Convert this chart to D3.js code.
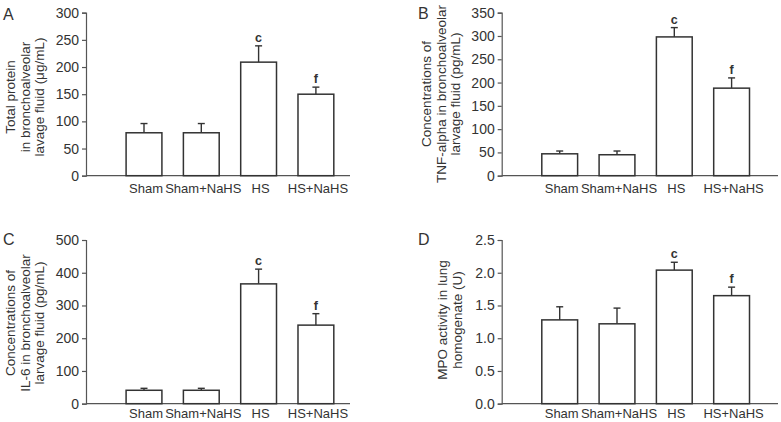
<!DOCTYPE html>
<html><head><meta charset="utf-8">
<script src="https://cdn.jsdelivr.net/npm/d3@7"></script>
<style>
body{margin:0;background:#fff;}
svg{display:block;font-family:"Liberation Sans",Arial,sans-serif;}
</style></head>
<body><svg id="c" width="781" height="422"></svg>
<script>
const categories = ["Sham", "Sham+NaHS", "HS", "HS+NaHS"];
const sigLabels = ["", "", "c", "f"];

const proteinMean = [79, 79, 209, 150];
const proteinErr = [17, 17, 30, 13];
const proteinTicks = [0, 50, 100, 150, 200, 250, 300];

const tnfMean = [47, 45, 298, 188];
const tnfErr = [6, 8, 20, 22];
const tnfTicks = [0, 50, 100, 150, 200, 250, 300, 350];

const il6Mean = [41, 41, 366, 240];
const il6Err = [6, 6, 45, 35];
const il6Ticks = [0, 100, 200, 300, 400, 500];

const mpoMean = [1.28, 1.22, 2.04, 1.65];
const mpoErr = [0.20, 0.24, 0.12, 0.13];
const mpoTicks = [0, 0.5, 1.0, 1.5, 2.0, 2.5];

const panels = [
  {letter:"A", mean:proteinMean, err:proteinErr, ticks:proteinTicks, fmt:d3.format("d"),
   title:["Total protein","in bronchoalveolar","lavage fluid (\u03bcg/mL)"],
   ax:86, top:12.7, bottom:175.7, xEnd:350, lx:3, ly:20, tx:[15,30,44], ty:97, lab:17.3},
  {letter:"B", mean:tnfMean, err:tnfErr, ticks:tnfTicks, fmt:d3.format("d"),
   title:["Concentrations of","TNF-alpha in bronchoalveolar","larvage fluid (pg/mL)"],
   ax:501.7, top:12.7, bottom:175.7, xEnd:778, lx:418, ly:19, tx:[431,446,460], ty:94, lab:17.3},
  {letter:"C", mean:il6Mean, err:il6Err, ticks:il6Ticks, fmt:d3.format("d"),
   title:["Concentrations of","IL-6 in bronchoalveolar","larvage fluid (pg/mL)"],
   ax:86, top:240, bottom:403.7, xEnd:350, lx:3, ly:245, tx:[15,30,44], ty:323, lab:14.5},
  {letter:"D", mean:mpoMean, err:mpoErr, ticks:mpoTicks, fmt:d3.format(".1f"),
   title:["MPO activity in lung","homogenate (U)"],
   ax:501.7, top:240, bottom:403.7, xEnd:778, lx:418, ly:245, tx:[447,462], ty:320, lab:14.5}
];

const svg = d3.select("#c");
const axisColor = "#555", barColor = "#333", textColor = "#333";

panels.forEach(p => {
  const g = svg.append("g");
  const y = d3.scaleLinear().domain([p.ticks[0], p.ticks[p.ticks.length-1]]).range([p.bottom, p.top]);
  const x = d3.scaleBand().domain(categories)
    .range([p.ax + 29.35, p.ax + 29.35 + 57.3*4]).paddingInner(0.375).paddingOuter(0.1875);

  // y axis
  const ya = g.append("g").attr("transform", `translate(${p.ax},0)`)
    .call(d3.axisLeft(y).tickValues(p.ticks).tickFormat(p.fmt).tickSize(4).tickPadding(3));
  ya.select(".domain").attr("stroke", axisColor).attr("stroke-width", 1.2);
  ya.selectAll(".tick line").attr("stroke", axisColor).attr("stroke-width", 1.2);
  ya.selectAll(".tick text").attr("fill", textColor).style("font-size", "14px")
    .style("font-family", "'Liberation Sans',Arial,sans-serif");

  // x axis line
  const xa = g.append("g").attr("transform", `translate(0,${p.bottom})`)
    .call(d3.axisBottom(x).tickSize(0).tickPadding(p.lab - 9.2));
  xa.select(".domain").attr("d", `M${p.ax},0H${p.xEnd}`).attr("stroke", axisColor).attr("stroke-width", 1.2);
  xa.selectAll(".tick text").attr("fill", textColor).style("font-size", "13px")
    .style("font-family", "'Liberation Sans',Arial,sans-serif").attr("dx", "2");

  const data = categories.map((c, i) => ({c, m: p.mean[i], e: p.err[i], s: sigLabels[i]}));

  // error bars (upper only)
  const eb = g.selectAll(".eb").data(data).enter().append("g");
  eb.append("line")
    .attr("x1", d => x(d.c) + x.bandwidth()/2).attr("x2", d => x(d.c) + x.bandwidth()/2)
    .attr("y1", d => y(d.m)).attr("y2", d => y(d.m + d.e))
    .attr("stroke", barColor).attr("stroke-width", 1.4);
  eb.append("line")
    .attr("x1", d => x(d.c) + x.bandwidth()/2 - 3.5).attr("x2", d => x(d.c) + x.bandwidth()/2 + 3.5)
    .attr("y1", d => y(d.m + d.e)).attr("y2", d => y(d.m + d.e))
    .attr("stroke", barColor).attr("stroke-width", 1.4);

  // bars
  g.selectAll(".bar").data(data).enter().append("rect")
    .attr("x", d => x(d.c)).attr("width", x.bandwidth())
    .attr("y", d => y(d.m)).attr("height", d => y(p.ticks[0]) - y(d.m))
    .attr("fill", "#fff").attr("stroke", barColor).attr("stroke-width", 1.5);

  // significance letters
  g.selectAll(".sig").data(data.filter(d => d.s)).enter().append("text")
    .attr("x", d => x(d.c) + x.bandwidth()/2).attr("y", d => y(d.m + d.e) - 4)
    .attr("text-anchor", "middle").attr("fill", textColor)
    .style("font-size", "12.5px").style("font-weight", "bold").text(d => d.s);

  // panel letter
  g.append("text").attr("x", p.lx).attr("y", p.ly).attr("fill", textColor)
    .style("font-size", "16px").text(p.letter);

  // y title
  p.title.forEach((t, i) => {
    g.append("text").attr("transform", `translate(${p.tx[i]},${p.ty}) rotate(-90)`)
      .attr("text-anchor", "middle").attr("fill", textColor)
      .style("font-size", "13.5px").text(t);
  });
});
</script></body></html>
